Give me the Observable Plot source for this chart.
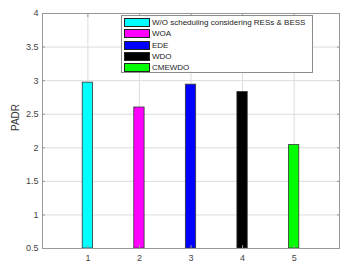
<!DOCTYPE html>
<html><head><meta charset="utf-8">
<script src="https://cdn.jsdelivr.net/npm/d3@7"></script>
<script src="https://cdn.jsdelivr.net/npm/@observablehq/plot@0.6"></script>
<style>
body{margin:0;background:#fff;font-family:"Liberation Sans",Arial,sans-serif;}
#wrap{position:relative;width:351px;height:268px;}
#legend{position:absolute;left:121px;top:15px;width:192px;height:58px;border:1px solid #8c8c8c;background:#fff;font-size:8px;color:#222;box-sizing:border-box;}
.row{position:absolute;left:2px;height:10px;display:flex;align-items:center;white-space:nowrap;}
.sw{width:26px;height:9px;border:1px solid #222;box-sizing:border-box;margin-right:2px;flex:none;}
</style></head><body>
<div id="wrap"></div>
<script>
const categories = [1, 2, 3, 4, 5];
const values = [2.97, 2.60, 2.94, 2.83, 2.04];
const names = ["W/O scheduling considering RESs & BESS", "WOA", "EDE", "WDO", "CMEWDO"];
const colors = ["#00ffff", "#ff00ff", "#0000ff", "#000000", "#00ff00"];
const yTicks = [0.5, 1, 1.5, 2, 2.5, 3, 3.5, 4];

const data = categories.map((c, i) => ({x: c, v: values[i], name: names[i], color: colors[i]}));
const halfW = 0.1;

const chart = Plot.plot({
  width: 351, height: 268,
  marginLeft: 42, marginRight: 12, marginTop: 13, marginBottom: 20,
  style: {fontFamily: "Liberation Sans, Arial, sans-serif", fontSize: "9px", color: "#444", background: "#fff"},
  x: {domain: [0.12, 5.88], ticks: categories, label: null},
  y: {domain: [0.5, 4], ticks: yTicks, label: null},
  marks: [
    Plot.gridX(categories, {stroke: "#dcdcdc", strokeOpacity: 1}),
    Plot.gridY(yTicks, {stroke: "#dcdcdc", strokeOpacity: 1}),
    Plot.rectY(data, {x1: d => d.x - halfW, x2: d => d.x + halfW, y1: 0.5, y2: "v", fill: "color", stroke: "#333", strokeWidth: 0.8}),
    Plot.frame({stroke: "#999"}),
    Plot.axisX({anchor: "bottom", ticks: categories, tickSize: 0, tickPadding: 6, tickFormat: d => d, fill: "#444"}),
    Plot.axisY({anchor: "left", ticks: yTicks, tickSize: 0, tickPadding: 4, tickFormat: d => d, fill: "#444"}),
    Plot.axisY({anchor: "right", ticks: yTicks, tickSize: -3, tickFormat: () => "", stroke: "#999"}),
    Plot.axisX({anchor: "top", ticks: categories, tickSize: -3, tickFormat: () => "", stroke: "#999"}),
    Plot.axisY({anchor: "left", ticks: yTicks, tickSize: -3, tickFormat: () => "", stroke: "#999"}),
    Plot.axisX({anchor: "bottom", ticks: categories, tickSize: -3, tickFormat: () => "", stroke: "#999"}),
    Plot.text(["PADR"], {frameAnchor: "left", dx: -27, rotate: -90, fontSize: 10, fill: "#333"})
  ]
});
const wrap = document.getElementById("wrap");
wrap.appendChild(chart);

const leg = document.createElement("div");
leg.id = "legend";
const tops = [1.5, 12.8, 24.3, 35.7, 46.8];
data.forEach((d, i) => {
  const r = document.createElement("div");
  r.className = "row";
  r.style.top = tops[i] + "px";
  const s = document.createElement("div");
  s.className = "sw";
  s.style.background = d.color;
  const t = document.createElement("span");
  t.textContent = d.name;
  r.appendChild(s); r.appendChild(t);
  leg.appendChild(r);
});
wrap.appendChild(leg);
</script>
</body></html>
